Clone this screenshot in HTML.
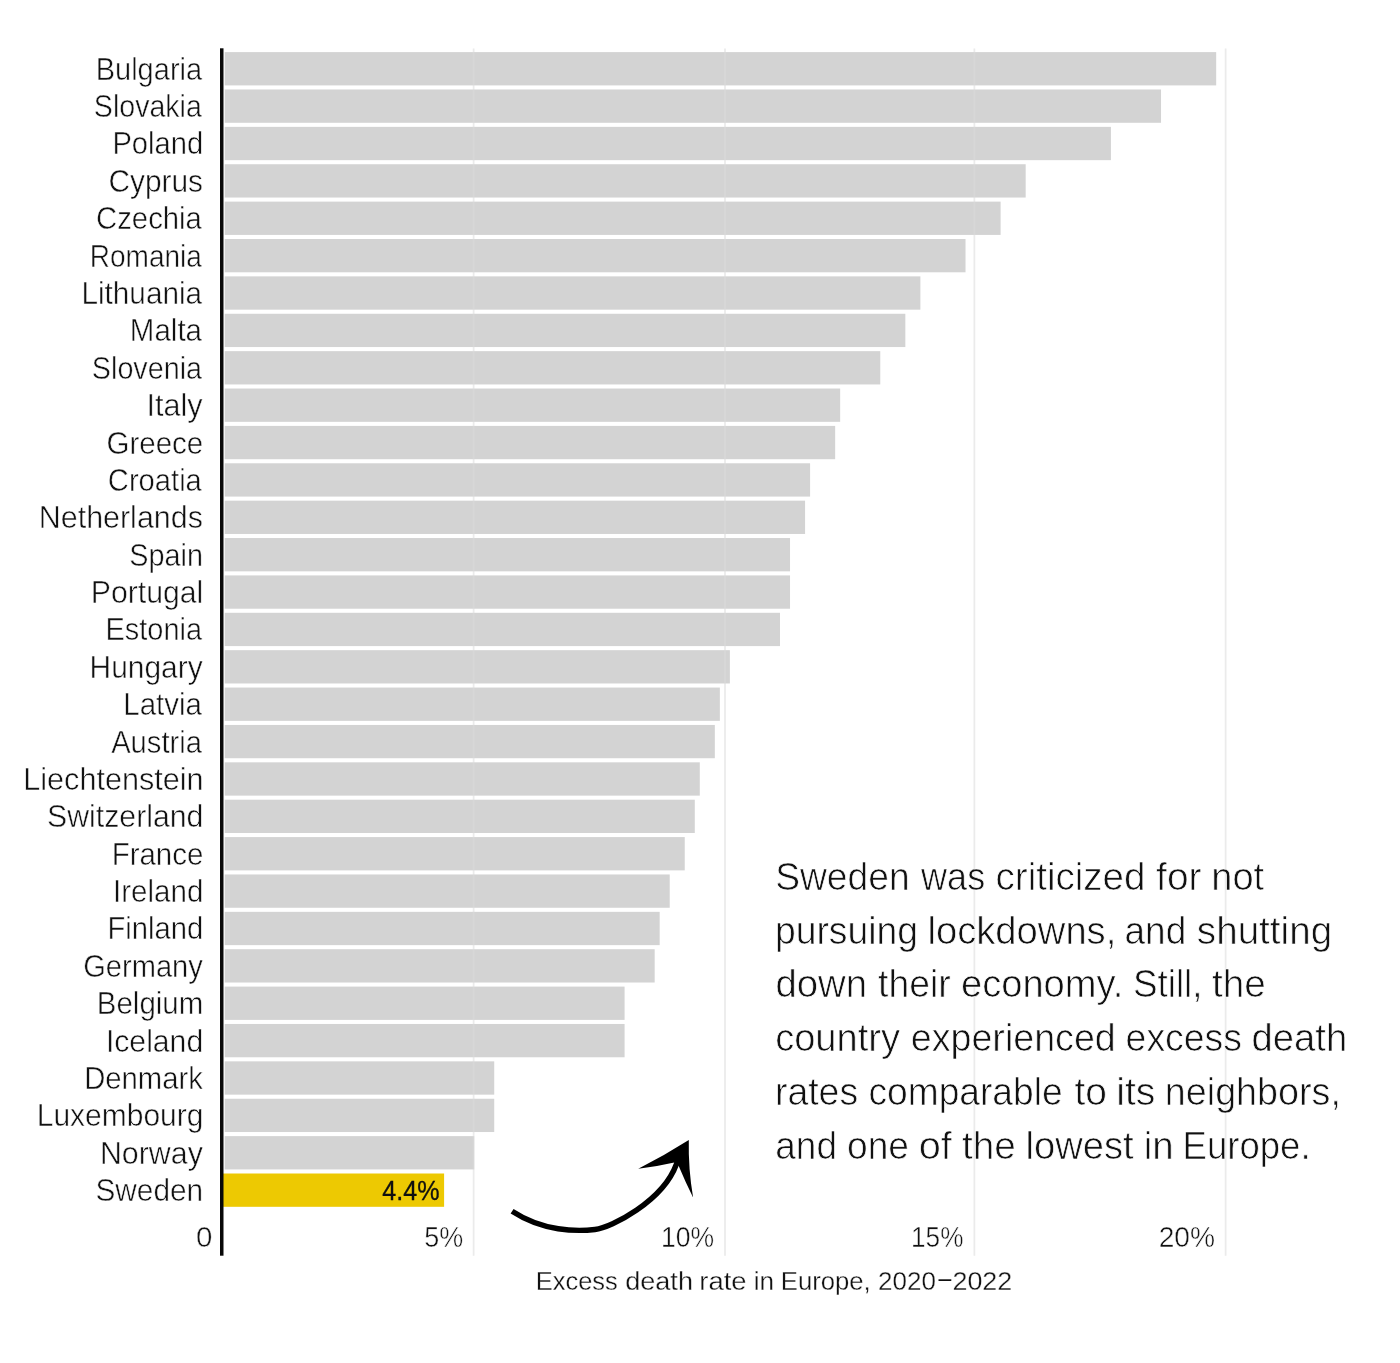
<!DOCTYPE html>
<html lang="en">
<head>
<meta charset="utf-8">
<title>Excess death rate in Europe, 2020–2022</title>
<style>
html,body{margin:0;padding:0;background:#fff;}
body{width:1400px;height:1363px;overflow:hidden;font-family:"Liberation Sans",sans-serif;}
svg{display:block;transform:translateZ(0);will-change:transform;}
text{font-family:"Liberation Sans",sans-serif;fill:#111;}
.lab{font-size:30.5px;}
.tick{font-size:30px;}
.ann{font-size:38.5px;}
.ttl{font-size:25.5px;}
.val{font-size:27px;}
.thin text{stroke:#fff;stroke-width:0.5px;}
.ann.thin text{stroke-width:0.7px;}
.ttl.thin text{stroke-width:0.3px;}
</style>
</head>
<body>
<svg width="1400" height="1363" viewBox="0 0 1400 1363">
<rect x="0" y="0" width="1400" height="1363" fill="#ffffff"/>
<g stroke="#e9e9e9" stroke-width="1.7">
<line x1="473.6" y1="48.4" x2="473.6" y2="1255.7"/>
<line x1="725.0" y1="48.4" x2="725.0" y2="1255.7"/>
<line x1="974.4" y1="48.4" x2="974.4" y2="1255.7"/>
<line x1="1225.6" y1="48.4" x2="1225.6" y2="1255.7"/>
</g>
<g fill="#d3d3d3">
<rect x="224.7" y="52.10" width="991.49" height="33.3"/>
<rect x="224.7" y="89.48" width="936.34" height="33.3"/>
<rect x="224.7" y="126.86" width="886.21" height="33.3"/>
<rect x="224.7" y="164.24" width="800.98" height="33.3"/>
<rect x="224.7" y="201.62" width="775.91" height="33.3"/>
<rect x="224.7" y="239.00" width="740.81" height="33.3"/>
<rect x="224.7" y="276.38" width="695.69" height="33.3"/>
<rect x="224.7" y="313.76" width="680.65" height="33.3"/>
<rect x="224.7" y="351.14" width="655.58" height="33.3"/>
<rect x="224.7" y="388.52" width="615.47" height="33.3"/>
<rect x="224.7" y="425.90" width="610.46" height="33.3"/>
<rect x="224.7" y="463.28" width="585.39" height="33.3"/>
<rect x="224.7" y="500.66" width="580.38" height="33.3"/>
<rect x="224.7" y="538.04" width="565.34" height="33.3"/>
<rect x="224.7" y="575.42" width="565.34" height="33.3"/>
<rect x="224.7" y="612.80" width="555.31" height="33.3"/>
<rect x="224.7" y="650.18" width="505.17" height="33.3"/>
<rect x="224.7" y="687.56" width="495.15" height="33.3"/>
<rect x="224.7" y="724.94" width="490.13" height="33.3"/>
<rect x="224.7" y="762.32" width="475.09" height="33.3"/>
<rect x="224.7" y="799.70" width="470.08" height="33.3"/>
<rect x="224.7" y="837.08" width="460.05" height="33.3"/>
<rect x="224.7" y="874.46" width="445.01" height="33.3"/>
<rect x="224.7" y="911.84" width="434.98" height="33.3"/>
<rect x="224.7" y="949.22" width="429.97" height="33.3"/>
<rect x="224.7" y="986.60" width="399.89" height="33.3"/>
<rect x="224.7" y="1023.98" width="399.89" height="33.3"/>
<rect x="224.7" y="1061.36" width="269.53" height="33.3"/>
<rect x="224.7" y="1098.74" width="269.53" height="33.3"/>
<rect x="224.7" y="1136.12" width="249.48" height="33.3"/>
<rect x="223.0" y="1173.50" width="221.10" height="33.3" fill="#edc902"/>
</g>
<g stroke="#ffffff" stroke-opacity="0.11" stroke-width="1.7">
<line x1="473.6" y1="48.4" x2="473.6" y2="1255.7"/>
<line x1="725.0" y1="48.4" x2="725.0" y2="1255.7"/>
<line x1="974.4" y1="48.4" x2="974.4" y2="1255.7"/>
<line x1="1225.6" y1="48.4" x2="1225.6" y2="1255.7"/>
</g>
<rect x="220.0" y="48.3" width="3.5" height="1207.4" fill="#080808"/>
<g class="lab thin">
<text x="95.67" y="79.70" textLength="106.48" lengthAdjust="spacingAndGlyphs">Bulgaria</text>
<text x="93.83" y="117.08" textLength="108.02" lengthAdjust="spacingAndGlyphs">Slovakia</text>
<text x="112.41" y="154.46" textLength="90.85" lengthAdjust="spacingAndGlyphs">Poland</text>
<text x="108.51" y="191.84" textLength="94.52" lengthAdjust="spacingAndGlyphs">Cyprus</text>
<text x="96.03" y="229.22" textLength="105.92" lengthAdjust="spacingAndGlyphs">Czechia</text>
<text x="89.78" y="266.60" textLength="112.17" lengthAdjust="spacingAndGlyphs">Romania</text>
<text x="81.41" y="303.98" textLength="120.74" lengthAdjust="spacingAndGlyphs">Lithuania</text>
<text x="129.85" y="341.36" textLength="72.15" lengthAdjust="spacingAndGlyphs">Malta</text>
<text x="91.87" y="378.74" textLength="110.12" lengthAdjust="spacingAndGlyphs">Slovenia</text>
<text x="146.50" y="416.12" textLength="56.11" lengthAdjust="spacingAndGlyphs">Italy</text>
<text x="106.51" y="453.50" textLength="96.78" lengthAdjust="spacingAndGlyphs">Greece</text>
<text x="107.83" y="490.88" textLength="94.02" lengthAdjust="spacingAndGlyphs">Croatia</text>
<text x="38.79" y="528.26" textLength="164.09" lengthAdjust="spacingAndGlyphs">Netherlands</text>
<text x="129.29" y="565.64" textLength="73.67" lengthAdjust="spacingAndGlyphs">Spain</text>
<text x="90.78" y="603.02" textLength="112.56" lengthAdjust="spacingAndGlyphs">Portugal</text>
<text x="105.52" y="640.40" textLength="96.47" lengthAdjust="spacingAndGlyphs">Estonia</text>
<text x="89.51" y="677.78" textLength="113.20" lengthAdjust="spacingAndGlyphs">Hungary</text>
<text x="123.21" y="715.16" textLength="78.84" lengthAdjust="spacingAndGlyphs">Latvia</text>
<text x="111.18" y="752.54" textLength="90.72" lengthAdjust="spacingAndGlyphs">Austria</text>
<text x="23.34" y="789.92" textLength="180.13" lengthAdjust="spacingAndGlyphs">Liechtenstein</text>
<text x="47.10" y="827.30" textLength="156.35" lengthAdjust="spacingAndGlyphs">Switzerland</text>
<text x="111.65" y="864.68" textLength="91.72" lengthAdjust="spacingAndGlyphs">France</text>
<text x="113.10" y="902.06" textLength="90.21" lengthAdjust="spacingAndGlyphs">Ireland</text>
<text x="107.42" y="939.44" textLength="95.85" lengthAdjust="spacingAndGlyphs">Finland</text>
<text x="83.21" y="976.82" textLength="119.58" lengthAdjust="spacingAndGlyphs">Germany</text>
<text x="96.77" y="1014.20" textLength="106.58" lengthAdjust="spacingAndGlyphs">Belgium</text>
<text x="105.91" y="1051.58" textLength="97.26" lengthAdjust="spacingAndGlyphs">Iceland</text>
<text x="84.15" y="1088.96" textLength="118.74" lengthAdjust="spacingAndGlyphs">Denmark</text>
<text x="36.77" y="1126.34" textLength="166.65" lengthAdjust="spacingAndGlyphs">Luxembourg</text>
<text x="99.91" y="1163.72" textLength="102.93" lengthAdjust="spacingAndGlyphs">Norway</text>
<text x="95.49" y="1201.10" textLength="107.62" lengthAdjust="spacingAndGlyphs">Sweden</text>
</g>
<g class="tick thin">
<text x="195.93" y="1246.50" textLength="16.40" lengthAdjust="spacingAndGlyphs">0</text>
<text x="424.16" y="1246.50" textLength="38.96" lengthAdjust="spacingAndGlyphs">5%</text>
<text x="661.06" y="1246.50" textLength="53.11" lengthAdjust="spacingAndGlyphs">10%</text>
<text x="911.07" y="1246.50" textLength="52.34" lengthAdjust="spacingAndGlyphs">15%</text>
<text x="1158.67" y="1246.50" textLength="56.38" lengthAdjust="spacingAndGlyphs">20%</text>
</g>
<g class="ttl thin">
<text x="535.81" y="1289.60" textLength="81.93" lengthAdjust="spacingAndGlyphs">Excess</text>
<text x="625.21" y="1289.60" textLength="67.75" lengthAdjust="spacingAndGlyphs">death</text>
<text x="699.37" y="1289.60" textLength="47.16" lengthAdjust="spacingAndGlyphs">rate</text>
<text x="753.66" y="1289.60" textLength="20.37" lengthAdjust="spacingAndGlyphs">in</text>
<text x="780.80" y="1289.60" textLength="89.93" lengthAdjust="spacingAndGlyphs">Europe,</text>
<text x="878.10" y="1289.60" textLength="57.82" lengthAdjust="spacingAndGlyphs">2020</text>
<text x="952.43" y="1289.60" textLength="59.87" lengthAdjust="spacingAndGlyphs">2022</text>
</g>
<g class="ann thin">
<text x="775.13" y="889.90" textLength="134.54" lengthAdjust="spacingAndGlyphs">Sweden</text>
<text x="921.11" y="889.90" textLength="64.02" lengthAdjust="spacingAndGlyphs">was</text>
<text x="995.59" y="889.90" textLength="149.87" lengthAdjust="spacingAndGlyphs">criticized</text>
<text x="1156.12" y="889.90" textLength="45.28" lengthAdjust="spacingAndGlyphs">for</text>
<text x="1211.33" y="889.90" textLength="52.81" lengthAdjust="spacingAndGlyphs">not</text>
<text x="774.97" y="943.68" textLength="143.07" lengthAdjust="spacingAndGlyphs">pursuing</text>
<text x="927.51" y="943.68" textLength="188.79" lengthAdjust="spacingAndGlyphs">lockdowns,</text>
<text x="1124.47" y="943.68" textLength="61.75" lengthAdjust="spacingAndGlyphs">and</text>
<text x="1196.85" y="943.68" textLength="135.29" lengthAdjust="spacingAndGlyphs">shutting</text>
<text x="775.38" y="997.46" textLength="91.64" lengthAdjust="spacingAndGlyphs">down</text>
<text x="878.07" y="997.46" textLength="72.54" lengthAdjust="spacingAndGlyphs">their</text>
<text x="961.03" y="997.46" textLength="162.33" lengthAdjust="spacingAndGlyphs">economy.</text>
<text x="1132.93" y="997.46" textLength="69.63" lengthAdjust="spacingAndGlyphs">Still,</text>
<text x="1212.11" y="997.46" textLength="53.78" lengthAdjust="spacingAndGlyphs">the</text>
<text x="775.17" y="1051.24" textLength="124.81" lengthAdjust="spacingAndGlyphs">country</text>
<text x="910.73" y="1051.24" textLength="205.09" lengthAdjust="spacingAndGlyphs">experienced</text>
<text x="1125.60" y="1051.24" textLength="116.32" lengthAdjust="spacingAndGlyphs">excess</text>
<text x="1251.57" y="1051.24" textLength="95.72" lengthAdjust="spacingAndGlyphs">death</text>
<text x="774.96" y="1105.02" textLength="83.14" lengthAdjust="spacingAndGlyphs">rates</text>
<text x="868.54" y="1105.02" textLength="194.05" lengthAdjust="spacingAndGlyphs">comparable</text>
<text x="1074.49" y="1105.02" textLength="32.44" lengthAdjust="spacingAndGlyphs">to</text>
<text x="1116.27" y="1105.02" textLength="39.10" lengthAdjust="spacingAndGlyphs">its</text>
<text x="1164.85" y="1105.02" textLength="176.04" lengthAdjust="spacingAndGlyphs">neighbors,</text>
<text x="775.33" y="1158.80" textLength="61.63" lengthAdjust="spacingAndGlyphs">and</text>
<text x="846.99" y="1158.80" textLength="61.95" lengthAdjust="spacingAndGlyphs">one</text>
<text x="918.75" y="1158.80" textLength="33.03" lengthAdjust="spacingAndGlyphs">of</text>
<text x="962.07" y="1158.80" textLength="53.87" lengthAdjust="spacingAndGlyphs">the</text>
<text x="1025.60" y="1158.80" textLength="108.04" lengthAdjust="spacingAndGlyphs">lowest</text>
<text x="1143.75" y="1158.80" textLength="29.96" lengthAdjust="spacingAndGlyphs">in</text>
<text x="1182.53" y="1158.80" textLength="128.05" lengthAdjust="spacingAndGlyphs">Europe.</text>
</g>
<g class="ttl">
<text x="938.47" y="1287.25" textLength="12.80" lengthAdjust="spacingAndGlyphs">–</text>
</g>
<g class="val">
<text fill="#0a0a0a" stroke="#0a0a0a" stroke-width="0.3" x="382.27" y="1199.90" textLength="57.20" lengthAdjust="spacingAndGlyphs">4.4%</text>
</g>
<path d="M512.1 1211.2 C543.0 1231.3 576.4 1231.7 594.9 1229.5 C611.3 1227.6 662.9 1201.1 676.4 1164.2 L678.5 1158.6" fill="none" stroke="#000" stroke-width="5.4"/>
<path d="M688.8 1140.1 Q664.2 1155.8 638.3 1168.7 Q656.3 1166.8 674.3 1162.6 L678.6 1165.8 Q685.2 1181.6 693.1 1197.6 Q688.2 1168.8 688.8 1140.1 Z" fill="#000"/>
</svg>
</body>
</html>
